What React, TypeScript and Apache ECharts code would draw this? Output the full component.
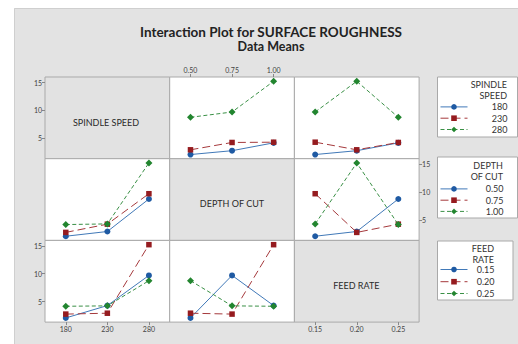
import React, { useEffect, useRef } from "react";
import * as echarts from "echarts";

// ---- data (L9 runs) ----
const speedLevels = ["180", "230", "280"];
const depthLevels = ["0.50", "0.75", "1.00"];
const feedLevels = ["0.15", "0.20", "0.25"];
const factorNames = ["SPINDLE SPEED", "DEPTH OF CUT", "FEED RATE"];

const runSpeed = ["180", "180", "180", "230", "230", "230", "280", "280", "280"];
const runDepth = ["0.50", "0.75", "1.00", "0.50", "0.75", "1.00", "0.50", "0.75", "1.00"];
const runFeed = ["0.15", "0.20", "0.25", "0.20", "0.25", "0.15", "0.25", "0.15", "0.20"];
const roughness = [2.05, 2.74, 4.15, 2.9, 4.22, 4.27, 8.75, 9.7, 15.23];

const yTicks = [5, 10, 15];
const yMin = 1.3;
const yMax = 16.0;

const titleText = "Interaction Plot for SURFACE ROUGHNESS";
const subtitleText = "Data Means";

// ---- styles ----
const FONT = "Lato, 'Open Sans', sans-serif";
const levels = [speedLevels, depthLevels, feedLevels];
const runs = [runSpeed, runDepth, runFeed];
const lineColors = ["#4179b8", "#a5393c", "#3a9046"];
const markColors = ["#1f5aa3", "#951b1f", "#22852f"];
const symbols = ["circle", "rect", "diamond"];
const symbolSizes = [6, 5.5, 7];
const dashes: any[] = ["solid", [8, 4], [4, 2.5]];

const X0 = 45;
const CW = 124.7;
const Y0 = 77;
const RH = 81.7;

function mean(r: number, li: number, c: number, xi: number) {
  let s = 0;
  let n = 0;
  for (let i = 0; i < roughness.length; i++) {
    if (runs[r][i] === levels[r][li] && runs[c][i] === levels[c][xi]) {
      s += roughness[i];
      n++;
    }
  }
  return n ? s / n : null;
}

function txt(text: string, x: number, y: number, size: number, align: string, weight = "normal", color = "#2a2a2a") {
  return {
    type: "text",
    x,
    y,
    z: 10,
    style: {
      text,
      fill: color,
      fontSize: size,
      fontFamily: FONT,
      fontWeight: weight,
      align,
      textAlign: align,
      verticalAlign: "middle",
      textVerticalAlign: "middle",
    },
  };
}

function buildOption() {
  const grids: any[] = [];
  const xAxes: any[] = [];
  const yAxes: any[] = [];
  const series: any[] = [];
  const labelStyle = { fontFamily: FONT, fontSize: 7, color: "#444" };

  for (let r = 0; r < 3; r++) {
    for (let c = 0; c < 3; c++) {
      const g = r * 3 + c;
      grids.push({
        left: X0 + c * CW,
        top: Y0 + r * RH,
        width: CW,
        height: RH,
        show: true,
        backgroundColor: r === c ? "#e2e2e2" : "#ffffff",
        borderColor: "#a9a9a9",
        borderWidth: 1,
      });
      const xPos = r === 0 && c === 1 ? "top" : r === 2 && c !== 1 ? "bottom" : null;
      xAxes.push({
        type: "category",
        gridIndex: g,
        data: levels[c],
        boundaryGap: true,
        show: xPos !== null,
        position: xPos || "bottom",
        axisLine: { show: false },
        axisTick: { show: true, alignWithLabel: true, length: 3, lineStyle: { color: "#888" } },
        axisLabel: { ...labelStyle, margin: 3.5 },
        splitLine: { show: false },
      });
      const yPos = c === 0 && r !== 1 ? "left" : r === 1 && c === 2 ? "right" : null;
      yAxes.push({
        type: "value",
        gridIndex: g,
        min: yMin,
        max: yMax,
        show: yPos !== null,
        position: yPos || "left",
        axisLine: { show: false },
        axisTick: { show: true, length: 3, customValues: yTicks, lineStyle: { color: "#888" } },
        axisLabel: { ...labelStyle, margin: 3, customValues: yTicks },
        splitLine: { show: false },
      });
      if (r === c) continue;
      for (let li = 0; li < 3; li++) {
        series.push({
          type: "line",
          name: levels[r][li],
          xAxisIndex: g,
          yAxisIndex: g,
          data: levels[c].map((_, xi) => mean(r, li, c, xi)),
          symbol: symbols[li],
          symbolSize: symbolSizes[li],
          showSymbol: true,
          itemStyle: { color: markColors[li] },
          lineStyle: { color: lineColors[li], width: 1, type: dashes[li] },
          z: 2 + li,
        });
      }
    }
  }

  // one legend component per entry, so that each row sits exactly where the reference has it
  const ITEM_H = 7;
  const legendRows = [
    [106.7, 118, 129.3],
    [188.7, 200, 211.2],
    [269.3, 281.5, 293.3],
  ];
  const legendTextW = [35, 31, 22];
  const legends: any[] = [];
  levels.forEach((lv, i) => {
    lv.forEach((name, j) => {
      legends.push({
        data: [name],
        orient: "vertical",
        left: 440,
        top: legendRows[i][j] - 4.3,
        padding: 0,
        itemWidth: 27,
        itemHeight: ITEM_H,
        selectedMode: false,
        lineStyle: { width: 1 },
        formatter: (n: string) => `{r|${n}}`,
        textStyle: {
          fontFamily: FONT,
          fontSize: 9,
          color: "#333",
          rich: {
            r: {
              width: legendTextW[i],
              align: "right",
              fontFamily: FONT,
              fontSize: 9,
              color: "#333",
            },
          },
        },
      });
    });
  });

  const graphic: any[] = [
    { type: "rect", z: 1, shape: { x: 0, y: 0, width: 14, height: 344 }, style: { fill: "#ffffff" } },
    { type: "rect", z: 1, shape: { x: 0, y: 0, width: 518, height: 8 }, style: { fill: "#ffffff" } },
    { type: "line", z: 1, shape: { x1: 14.5, y1: 8.5, x2: 14.5, y2: 344 }, style: { stroke: "#cfcfcf", lineWidth: 1 } },
    { type: "line", z: 1, shape: { x1: 14.5, y1: 8.5, x2: 518, y2: 8.5 }, style: { stroke: "#cfcfcf", lineWidth: 1 } },
    { type: "rect", z: 1, shape: { x: 437.5, y: 77, width: 80, height: 60 }, style: { fill: "#fff", stroke: "#a9a9a9", lineWidth: 1 } },
    { type: "rect", z: 1, shape: { x: 437.5, y: 157, width: 80, height: 61 }, style: { fill: "#fff", stroke: "#a9a9a9", lineWidth: 1 } },
    { type: "rect", z: 1, shape: { x: 437.5, y: 241, width: 75.5, height: 59 }, style: { fill: "#fff", stroke: "#a9a9a9", lineWidth: 1 } },
    txt(titleText, 271, 31.7, 13.5, "center", "bold", "#222"),
    txt(subtitleText, 271, 46.7, 12.5, "center", "bold", "#222"),
    txt(factorNames[0], 106, 122.5, 9, "center"),
    txt(factorNames[1], 232, 203.3, 9, "center"),
    txt(factorNames[2], 356.3, 285.7, 9, "center"),
    txt("SPINDLE", 507, 84.3, 9, "right", "normal", "#333"),
    txt("SPEED", 507, 95, 9, "right", "normal", "#333"),
    txt("DEPTH", 503, 165.7, 9, "right", "normal", "#333"),
    txt("OF CUT", 503, 176.7, 9, "right", "normal", "#333"),
    txt("FEED", 494, 248.3, 9, "right", "normal", "#333"),
    txt("RATE", 494, 259, 9, "right", "normal", "#333"),
  ];

  return {
    animation: false,
    backgroundColor: "#e3e3e3",
    grid: grids,
    xAxis: xAxes,
    yAxis: yAxes,
    series,
    legend: legends,
    graphic,
  };
}

export default function App() {
  const ref = useRef<HTMLDivElement>(null);
  useEffect(() => {
    const chart = echarts.init(ref.current!, null, { renderer: "svg" });
    chart.setOption(buildOption() as any);
    return () => chart.dispose();
  }, []);
  return <div ref={ref} style={{ position: "fixed", left: 0, top: 0, width: 518, height: 344 }} />;
}
